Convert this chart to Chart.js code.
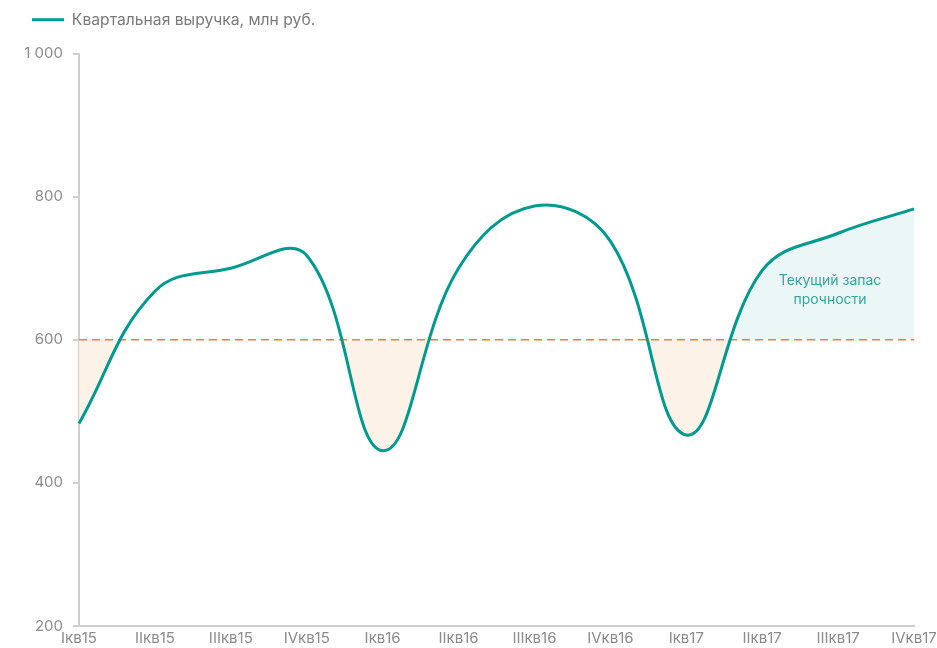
<!DOCTYPE html>
<html>
<head>
<meta charset="utf-8">
<script src="https://cdn.jsdelivr.net/npm/chart.js@4/dist/chart.umd.min.js"></script>
<style>
  html, body { margin: 0; padding: 0; background: #fff; }
  #wrap { width: 937px; height: 648px; }
</style>
</head>
<body>
<div id="wrap"><canvas id="chart"></canvas></div>
<script>
const quarters = ["Iкв15", "IIкв15", "IIIкв15", "IVкв15", "Iкв16", "IIкв16", "IIIкв16", "IVкв16", "Iкв17", "IIкв17", "IIIкв17", "IVкв17"];
const revenue = [483, 668, 700, 718, 445, 700, 787, 738, 467, 697, 749, 783];
const threshold = quarters.map(() => 600);
const thresholdValue = 600;
const marginStart = 8; // index from which the current margin is shaded
const noteLines = ["Текущий запас", "прочности"];

const teal = "#009a8e";
const orange = "#ef8034";
const grey = "#8c8c8c";
const font = "Inter, Roboto, sans-serif";

// shading of the current safety margin (above the threshold, last part of the series)
const marginFill = {
    id: "marginFill",
    afterInit(chart) {
        // extra gap between legend and plot
        const legend = chart.legend;
        const fit = legend.fit;
        legend.fit = function () {
            fit.call(this);
            this.height += 16;
        };
    },
    beforeDatasetsDraw(chart) {
        const ctx = chart.ctx;
        const meta = chart.getDatasetMeta(0);
        const area = chart.chartArea;
        const x0 = chart.scales.x.getPixelForValue(marginStart);
        const y0 = chart.scales.y.getPixelForValue(thresholdValue);
        const pts = meta.data;
        ctx.save();
        ctx.beginPath();
        ctx.rect(x0, area.top, area.right - x0, y0 - area.top);
        ctx.clip();
        ctx.beginPath();
        meta.dataset.path(ctx);
        ctx.lineTo(pts[pts.length - 1].x, y0);
        ctx.lineTo(pts[0].x, y0);
        ctx.closePath();
        ctx.fillStyle = "#ebf6f6";
        ctx.fill();
        ctx.restore();
    },
    afterDatasetsDraw(chart) {
        const ctx = chart.ctx;
        const x = (chart.scales.x.getPixelForValue(10) + chart.scales.x.getPixelForValue(11)) / 2 - 46;
        const y = chart.scales.y.getPixelForValue(683);
        ctx.save();
        ctx.fillStyle = "#34a79d";
        ctx.font = "14px " + font;
        ctx.textAlign = "center";
        ctx.textBaseline = "middle";
        noteLines.forEach((t, i) => ctx.fillText(t, x, y + i * 19));
        ctx.restore();
    }
};

new Chart(document.getElementById("chart"), {
    type: "line",
    data: {
        labels: quarters,
        datasets: [{
            label: "Квартальная выручка, млн руб.",
            data: revenue,
            borderColor: teal,
            backgroundColor: teal,
            borderWidth: 3,
            tension: 0.4,
            pointRadius: 0,
            fill: { target: { value: thresholdValue }, above: "rgba(0,0,0,0)", below: "#fdf2e7" },
            order: 0
        }, {
            label: "threshold",
            data: threshold,
            borderColor: orange,
            borderWidth: 1.5,
            borderDash: [8, 5],
            pointRadius: 0,
            fill: false,
            order: 1
        }]
    },
    options: {
        responsive: true,
        maintainAspectRatio: false,
        animation: false,
        layout: { padding: { left: 20, right: 23, top: 0, bottom: 0 } },
        plugins: {
            filler: { drawTime: "beforeDatasetsDraw" },
            tooltip: { enabled: false },
            legend: {
                position: "top",
                align: "start",
                labels: {
                    filter: item => item.datasetIndex === 0,
                    usePointStyle: true,
                    pointStyle: "line",
                    pointStyleWidth: 32,
                    color: "#7a7a7a",
                    font: { family: font, size: 15.7 },
                    padding: 12
                }
            }
        },
        scales: {
            x: {
                grid: { display: false, drawTicks: false },
                border: { display: true, color: "#cfcfcf", width: 2 },
                ticks: { color: grey, font: { family: font, size: 15 }, maxRotation: 0, padding: 3 },
                afterFit: s => { s.height = 22; s.paddingLeft = 0; s.paddingRight = 0; }
            },
            y: {
                min: 200,
                max: 1000,
                grid: { display: true, drawOnChartArea: false, drawTicks: true, tickLength: 6, color: "#cfcfcf", lineWidth: 2 },
                border: { display: true, color: "#cfcfcf", width: 2 },
                ticks: {
                    stepSize: 200,
                    color: grey,
                    font: { family: font, size: 15 },
                    padding: 10,
                    callback: v => String(v).replace(/\B(?=(\d{3})+(?!\d))/g, " ")
                },
                afterFit: s => { s.width = 59; }
            }
        }
    },
    plugins: [marginFill]
});
</script>
</body>
</html>
